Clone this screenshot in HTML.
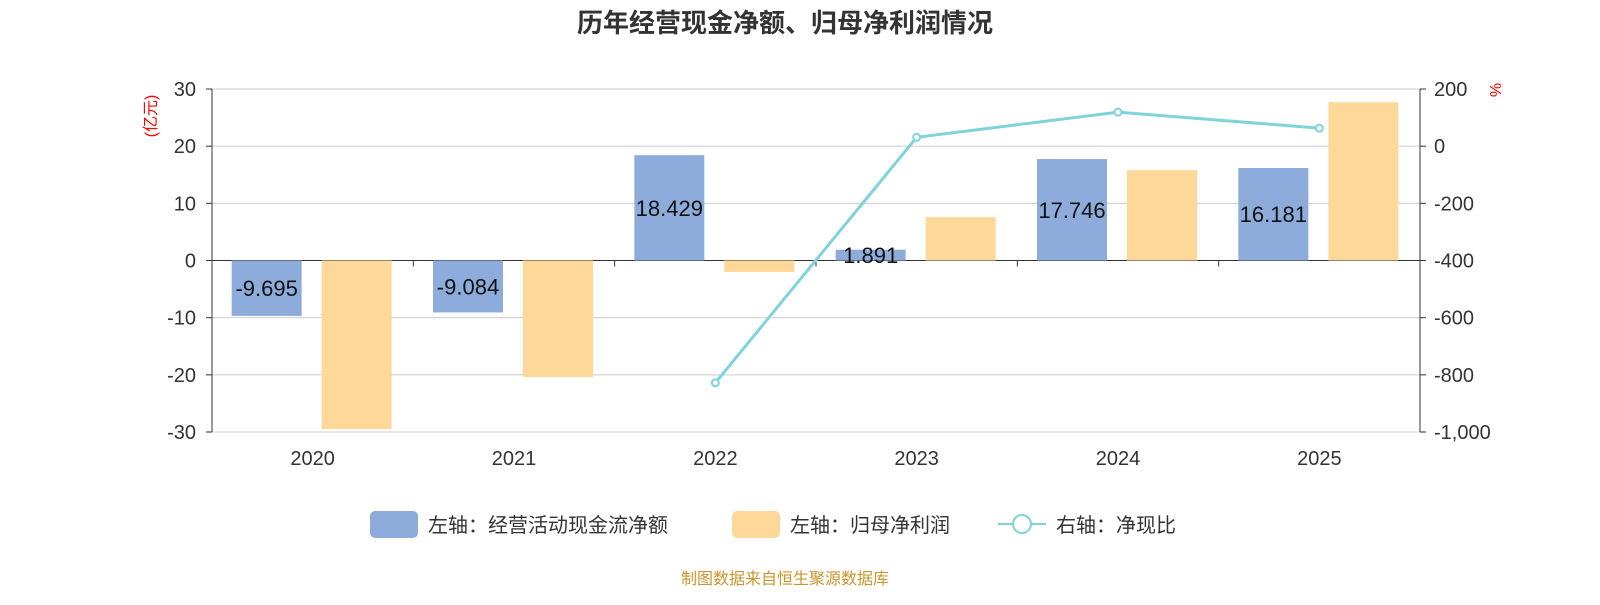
<!DOCTYPE html>
<html><head><meta charset="utf-8">
<style>
body{margin:0;background:#fff;font-family:"Liberation Sans","Noto Sans CJK SC",sans-serif;}
svg text{font-family:"Liberation Sans","Noto Sans CJK SC",sans-serif;}
</style></head>
<body>
<svg id="chart" width="1600" height="600"></svg>
<script>
const categories=["2020","2021","2022","2023","2024","2025"];
const cashFlow=[-9.695,-9.084,18.429,1.891,17.746,16.181];
const netProfit=[-29.5,-20.4,-2.0,7.6,15.8,27.7];
const ratio=[null,null,-828,31,119,63];
const leftTicks=[30,20,10,0,-10,-20,-30];
const rightTicks=[200,0,-200,-400,-600,-800,-1000];
const rightLabels=["200","0","-200","-400","-600","-800","-1,000"];

const svg=document.getElementById('chart');
const NS='http://www.w3.org/2000/svg';
const X0=212,X1=1420,YT=89,YB=432;
const yL=v=>YT+(30-v)/60*(YB-YT);
const yR=v=>YT+(200-v)/1200*(YB-YT);
const band=(X1-X0)/categories.length;
const xc=i=>X0+band*(i+0.5);
function mk(tag,attrs,parent){const e=document.createElementNS(NS,tag);for(const k in attrs)e.setAttribute(k,attrs[k]);(parent||svg).appendChild(e);return e;}
function txt(s,attrs){const e=mk('text',attrs);e.textContent=s;return e;}

const title=txt("历年经营现金净额、归母净利润情况",{x:785,y:32,'text-anchor':'middle','font-size':26,'font-weight':'bold',fill:'#333'});



leftTicks.forEach((v,i)=>{
  const g=mk('line',{x1:X0,x2:X1,y1:yL(v),y2:yL(v),stroke:v===0?'#333':'#ccc','stroke-width':1});
  
  
  const t=txt(String(v),{x:196,y:yL(v)+7,'text-anchor':'end','font-size':20,fill:'#333'});
  
  
  mk('line',{x1:X0-6,x2:X0,y1:yL(v),y2:yL(v),stroke:'#333'});
});
rightTicks.forEach((v,i)=>{
  const t=txt(rightLabels[i],{x:1434,y:yR(v)+7,'font-size':20,fill:'#333'});
  
  
  mk('line',{x1:X1,x2:X1+6,y1:yR(v),y2:yR(v),stroke:'#333'});
});
mk('line',{x1:X0,x2:X0,y1:YT,y2:YB,stroke:'#333'});
mk('line',{x1:X1,x2:X1,y1:YT,y2:YB,stroke:'#333'});
const lu=txt("(亿元)",{x:0,y:0,'font-size':16,fill:'red',transform:'translate(156,116) rotate(-90)','text-anchor':'middle'});


const ru=txt("%",{x:0,y:0,'font-size':16,fill:'red',transform:'translate(1490,90) rotate(90)','text-anchor':'middle'});



categories.forEach((c,i)=>{
  const t=txt(c,{x:xc(i),y:465,'text-anchor':'middle','font-size':20,fill:'#333'});
  
  
  mk('line',{x1:X0+band*(i+1),x2:X0+band*(i+1),y1:yL(0),y2:yL(0)+6,stroke:'#333'});
  const bw=70;
  const b1=mk('rect',{x:xc(i)-81,y:Math.min(yL(0),yL(cashFlow[i])),width:bw,height:Math.abs(yL(cashFlow[i])-yL(0)),fill:'#8eacdb'});
  
  
  const b2=mk('rect',{x:xc(i)+9,y:Math.min(yL(0),yL(netProfit[i])),width:bw,height:Math.abs(yL(netProfit[i])-yL(0)),fill:'#fed898'});
  
  
  const lb=txt(cashFlow[i].toFixed(3),{x:xc(i)-46,y:(yL(0)+yL(cashFlow[i]))/2+8,'text-anchor':'middle','font-size':22,fill:'#111'});
  
  
});

let pts=[];
ratio.forEach((v,i)=>{if(v!==null)pts.push([xc(i),yR(v)]);});
const line=mk('polyline',{points:pts.map(p=>p.join(',')).join(' '),fill:'none',stroke:'#80d3d8','stroke-width':3});


pts.forEach(p=>{
  const c=mk('circle',{cx:p[0],cy:p[1],r:3.5,fill:'#fff',stroke:'#80d3d8','stroke-width':2});
  
  
});

// legend
const l1=mk('rect',{x:370,y:511,width:48,height:27,rx:5,fill:'#8eacdb'});


txt("左轴：经营活动现金流净额",{x:428,y:532,'font-size':20,fill:'#333'});
const l2=mk('rect',{x:732,y:511,width:48,height:27,rx:5,fill:'#fed898'});


txt("左轴：归母净利润",{x:790,y:532,'font-size':20,fill:'#333'});
const l3=mk('line',{x1:998,x2:1046,y1:524,y2:524,stroke:'#80d3d8','stroke-width':2});


mk('circle',{cx:1022,cy:524,r:9,fill:'#fff',stroke:'#80d3d8','stroke-width':2});
txt("右轴：净现比",{x:1056,y:532,'font-size':20,fill:'#333'});

const src=txt("制图数据来自恒生聚源数据库",{x:785,y:584,'text-anchor':'middle','font-size':16,fill:'#c8962e'});


</script>
</body></html>
